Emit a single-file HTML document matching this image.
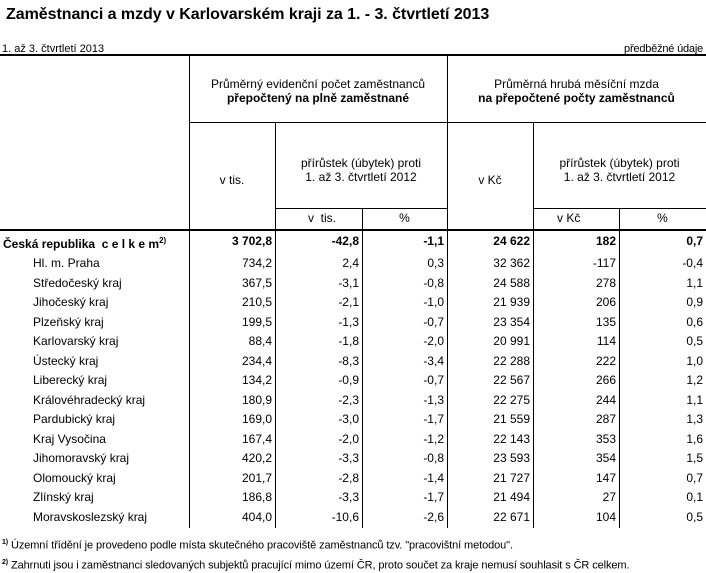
<!DOCTYPE html>
<html><head><meta charset="utf-8"><style>
body{margin:0;width:706px;height:571px;background:#fff;font-family:"Liberation Sans",Arial,sans-serif;color:#000;position:relative;overflow:hidden}
div{position:absolute;white-space:nowrap}
.t{font-size:12px;line-height:14px}
.v{width:1px;background:#000}
.h{height:1px;background:#000}
.r{text-align:right}
.c{text-align:center}
</style></head><body>
<div style="left:6px;top:6px;font-size:16px;font-weight:bold;letter-spacing:-0.05px">Zaměstnanci a mzdy v Karlovarském kraji za 1. - 3. čtvrtletí 2013</div>
<div class="t" style="left:2px;top:42px;font-size:11px;letter-spacing:0px">1. až 3. čtvrtletí 2013</div>
<div class="t" style="right:3px;top:42px;font-size:11px;letter-spacing:-0.2px">předběžné údaje</div>
<div class="h" style="left:0;top:54px;width:706px;height:2px"></div>
<div class="h" style="left:0;top:229px;width:706px;height:2px"></div>
<div class="h" style="left:189px;top:122px;width:517px"></div>
<div class="h" style="left:275px;top:208px;width:172px"></div>
<div class="h" style="left:533px;top:208px;width:173px"></div>
<div class="v" style="left:189px;top:56px;height:472px"></div>
<div class="v" style="left:447px;top:56px;height:472px"></div>
<div class="v" style="left:275px;top:122px;height:406px"></div>
<div class="v" style="left:533px;top:122px;height:406px"></div>
<div class="v" style="left:362px;top:208px;height:320px"></div>
<div class="v" style="left:619px;top:208px;height:320px"></div>
<div class="t c" style="left:189px;width:258px;top:77px">Průměrný evidenční počet zaměstnanců<br><b>přepočtený na plně zaměstnané</b></div>
<div class="t c" style="left:447px;width:259px;top:77px">Průměrná hrubá měsíční mzda<br><b>na přepočtené počty zaměstnanců</b></div>
<div class="t c" style="left:189px;width:86px;top:173px">v tis.</div>
<div class="t c" style="left:275px;width:172px;top:156px">přírůstek (úbytek) proti<br>1. až 3. čtvrtletí 2012</div>
<div class="t c" style="left:447px;width:86px;top:173px">v Kč</div>
<div class="t c" style="left:533px;width:173px;top:156px">přírůstek (úbytek) proti<br>1. až 3. čtvrtletí 2012</div>
<div class="t" style="left:308px;top:211px">v &nbsp;tis.</div>
<div class="t c" style="left:362px;width:85px;top:211px">%</div>
<div class="t" style="left:557px;top:211px">v Kč</div>
<div class="t c" style="left:619px;width:87px;top:211px">%</div>

<div class="t" style="left:3px;top:234px;font-weight:bold">Česká republika &nbsp;c e l k e m<sup style="font-size:8px">2)</sup></div>
<div class="t r" style="left:189px;width:83px;top:234px;font-weight:bold">3 702,8</div>
<div class="t r" style="left:275px;width:84px;top:234px;font-weight:bold">-42,8</div>
<div class="t r" style="left:362px;width:82px;top:234px;font-weight:bold">-1,1</div>
<div class="t r" style="left:447px;width:83px;top:234px;font-weight:bold">24 622</div>
<div class="t r" style="left:533px;width:83px;top:234px;font-weight:bold">182</div>
<div class="t r" style="left:619px;width:84px;top:234px;font-weight:bold">0,7</div>

<div class="t" style="left:33px;top:256px">Hl. m. Praha</div><div class="t r" style="left:189px;width:83px;top:256px">734,2</div><div class="t r" style="left:275px;width:84px;top:256px">2,4</div><div class="t r" style="left:362px;width:82px;top:256px">0,3</div><div class="t r" style="left:447px;width:83px;top:256px">32 362</div><div class="t r" style="left:533px;width:83px;top:256px">-117</div><div class="t r" style="left:619px;width:84px;top:256px">-0,4</div>
<div class="t" style="left:33px;top:276px">Středočeský kraj</div><div class="t r" style="left:189px;width:83px;top:276px">367,5</div><div class="t r" style="left:275px;width:84px;top:276px">-3,1</div><div class="t r" style="left:362px;width:82px;top:276px">-0,8</div><div class="t r" style="left:447px;width:83px;top:276px">24 588</div><div class="t r" style="left:533px;width:83px;top:276px">278</div><div class="t r" style="left:619px;width:84px;top:276px">1,1</div>
<div class="t" style="left:33px;top:295px">Jihočeský kraj</div><div class="t r" style="left:189px;width:83px;top:295px">210,5</div><div class="t r" style="left:275px;width:84px;top:295px">-2,1</div><div class="t r" style="left:362px;width:82px;top:295px">-1,0</div><div class="t r" style="left:447px;width:83px;top:295px">21 939</div><div class="t r" style="left:533px;width:83px;top:295px">206</div><div class="t r" style="left:619px;width:84px;top:295px">0,9</div>
<div class="t" style="left:33px;top:315px">Plzeňský kraj</div><div class="t r" style="left:189px;width:83px;top:315px">199,5</div><div class="t r" style="left:275px;width:84px;top:315px">-1,3</div><div class="t r" style="left:362px;width:82px;top:315px">-0,7</div><div class="t r" style="left:447px;width:83px;top:315px">23 354</div><div class="t r" style="left:533px;width:83px;top:315px">135</div><div class="t r" style="left:619px;width:84px;top:315px">0,6</div>
<div class="t" style="left:33px;top:334px">Karlovarský kraj</div><div class="t r" style="left:189px;width:83px;top:334px">88,4</div><div class="t r" style="left:275px;width:84px;top:334px">-1,8</div><div class="t r" style="left:362px;width:82px;top:334px">-2,0</div><div class="t r" style="left:447px;width:83px;top:334px">20 991</div><div class="t r" style="left:533px;width:83px;top:334px">114</div><div class="t r" style="left:619px;width:84px;top:334px">0,5</div>
<div class="t" style="left:33px;top:354px">Ústecký kraj</div><div class="t r" style="left:189px;width:83px;top:354px">234,4</div><div class="t r" style="left:275px;width:84px;top:354px">-8,3</div><div class="t r" style="left:362px;width:82px;top:354px">-3,4</div><div class="t r" style="left:447px;width:83px;top:354px">22 288</div><div class="t r" style="left:533px;width:83px;top:354px">222</div><div class="t r" style="left:619px;width:84px;top:354px">1,0</div>
<div class="t" style="left:33px;top:373px">Liberecký kraj</div><div class="t r" style="left:189px;width:83px;top:373px">134,2</div><div class="t r" style="left:275px;width:84px;top:373px">-0,9</div><div class="t r" style="left:362px;width:82px;top:373px">-0,7</div><div class="t r" style="left:447px;width:83px;top:373px">22 567</div><div class="t r" style="left:533px;width:83px;top:373px">266</div><div class="t r" style="left:619px;width:84px;top:373px">1,2</div>
<div class="t" style="left:33px;top:393px">Královéhradecký kraj</div><div class="t r" style="left:189px;width:83px;top:393px">180,9</div><div class="t r" style="left:275px;width:84px;top:393px">-2,3</div><div class="t r" style="left:362px;width:82px;top:393px">-1,3</div><div class="t r" style="left:447px;width:83px;top:393px">22 275</div><div class="t r" style="left:533px;width:83px;top:393px">244</div><div class="t r" style="left:619px;width:84px;top:393px">1,1</div>
<div class="t" style="left:33px;top:412px">Pardubický kraj</div><div class="t r" style="left:189px;width:83px;top:412px">169,0</div><div class="t r" style="left:275px;width:84px;top:412px">-3,0</div><div class="t r" style="left:362px;width:82px;top:412px">-1,7</div><div class="t r" style="left:447px;width:83px;top:412px">21 559</div><div class="t r" style="left:533px;width:83px;top:412px">287</div><div class="t r" style="left:619px;width:84px;top:412px">1,3</div>
<div class="t" style="left:33px;top:432px">Kraj Vysočina</div><div class="t r" style="left:189px;width:83px;top:432px">167,4</div><div class="t r" style="left:275px;width:84px;top:432px">-2,0</div><div class="t r" style="left:362px;width:82px;top:432px">-1,2</div><div class="t r" style="left:447px;width:83px;top:432px">22 143</div><div class="t r" style="left:533px;width:83px;top:432px">353</div><div class="t r" style="left:619px;width:84px;top:432px">1,6</div>
<div class="t" style="left:33px;top:451px">Jihomoravský kraj</div><div class="t r" style="left:189px;width:83px;top:451px">420,2</div><div class="t r" style="left:275px;width:84px;top:451px">-3,3</div><div class="t r" style="left:362px;width:82px;top:451px">-0,8</div><div class="t r" style="left:447px;width:83px;top:451px">23 593</div><div class="t r" style="left:533px;width:83px;top:451px">354</div><div class="t r" style="left:619px;width:84px;top:451px">1,5</div>
<div class="t" style="left:33px;top:471px">Olomoucký kraj</div><div class="t r" style="left:189px;width:83px;top:471px">201,7</div><div class="t r" style="left:275px;width:84px;top:471px">-2,8</div><div class="t r" style="left:362px;width:82px;top:471px">-1,4</div><div class="t r" style="left:447px;width:83px;top:471px">21 727</div><div class="t r" style="left:533px;width:83px;top:471px">147</div><div class="t r" style="left:619px;width:84px;top:471px">0,7</div>
<div class="t" style="left:33px;top:490px">Zlínský kraj</div><div class="t r" style="left:189px;width:83px;top:490px">186,8</div><div class="t r" style="left:275px;width:84px;top:490px">-3,3</div><div class="t r" style="left:362px;width:82px;top:490px">-1,7</div><div class="t r" style="left:447px;width:83px;top:490px">21 494</div><div class="t r" style="left:533px;width:83px;top:490px">27</div><div class="t r" style="left:619px;width:84px;top:490px">0,1</div>
<div class="t" style="left:33px;top:510px">Moravskoslezský kraj</div><div class="t r" style="left:189px;width:83px;top:510px">404,0</div><div class="t r" style="left:275px;width:84px;top:510px">-10,6</div><div class="t r" style="left:362px;width:82px;top:510px">-2,6</div><div class="t r" style="left:447px;width:83px;top:510px">22 671</div><div class="t r" style="left:533px;width:83px;top:510px">104</div><div class="t r" style="left:619px;width:84px;top:510px">0,5</div>

<div class="t" style="left:2px;top:536px;font-size:11px;letter-spacing:-0.1px"><sup style="font-size:7px;font-weight:bold">1)</sup> Územní třídění je provedeno podle místa skutečného pracoviště zaměstnanců tzv. "pracovištní metodou".</div>
<div class="t" style="left:2px;top:556px;font-size:11px;letter-spacing:-0.1px"><sup style="font-size:7px;font-weight:bold">2)</sup> Zahrnuti jsou i zaměstnanci sledovaných subjektů pracující mimo území ČR, proto součet za kraje nemusí souhlasit s ČR celkem.</div>
</body></html>
